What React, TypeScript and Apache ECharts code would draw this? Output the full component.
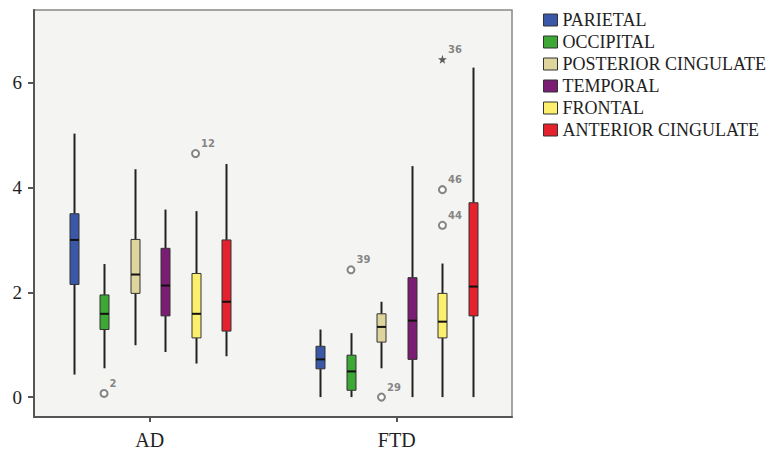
import React, { useEffect, useRef } from "react";
import * as echarts from "echarts";

const groups = ["AD", "FTD"];
const regions = [
  "PARIETAL",
  "OCCIPITAL",
  "POSTERIOR CINGULATE",
  "TEMPORAL",
  "FRONTAL",
  "ANTERIOR CINGULATE",
];
const colors = ["#3a58a7", "#3da836", "#ded49d", "#7b1d74", "#fbef6d", "#e3222e"];

// [min, Q1, median, Q3, max] for AD, FTD
const parietal = [
  [0.43, 2.15, 3.0, 3.5, 5.03],
  [0.0, 0.54, 0.72, 0.97, 1.29],
];
const occipital = [
  [0.55, 1.29, 1.59, 1.95, 2.54],
  [0.0, 0.13, 0.49, 0.8, 1.22],
];
const posteriorCingulate = [
  [0.99, 1.98, 2.34, 3.01, 4.35],
  [0.55, 1.05, 1.34, 1.59, 1.82],
];
const temporal = [
  [0.86, 1.55, 2.13, 2.84, 3.58],
  [0.0, 0.72, 1.46, 2.28, 4.41],
];
const frontal = [
  [0.64, 1.13, 1.59, 2.36, 3.55],
  [0.0, 1.13, 1.44, 1.98, 2.55],
];
const anteriorCingulate = [
  [0.78, 1.26, 1.82, 3.0, 4.45],
  [0.0, 1.55, 2.11, 3.71, 6.29],
];
const boxData = [parietal, occipital, posteriorCingulate, temporal, frontal, anteriorCingulate];

// outliers: group index, region index, value, case label, kind
const outlierGroup = [0, 0, 1, 1, 1, 1, 1];
const outlierRegion = [1, 4, 1, 2, 4, 4, 4];
const outlierValue = [0.07, 4.65, 2.43, 0.0, 3.28, 3.96, 6.45];
const outlierLabel = ["2", "12", "39", "29", "44", "46", "36"];
const outlierKind = ["circle", "circle", "circle", "circle", "circle", "circle", "star"];

const yTicks = [0, 2, 4, 6];

const X_MIN = 0.531;
const X_MAX = 2.467;
const SLOT = 0.1235;
const BOX_W = 9;
const STAR = "path://M50,0 L61,35 L98,35 L68,57 L79,91 L50,70 L21,91 L32,57 L2,35 L39,35 Z";

const slotX = (g: number, r: number) => g + 1 + (r - 2.5) * SLOT;

export default function App() {
  const ref = useRef<HTMLDivElement>(null);
  useEffect(() => {
    if (!ref.current) return;
    const chart = echarts.init(ref.current, null, { renderer: "svg" });

    const boxSeries = regions.map((name, ri) => ({
      name,
      type: "custom",
      itemStyle: { color: colors[ri], borderColor: "#333", borderWidth: 1 },
      encode: { x: 0, y: [1, 2, 3, 4, 5] },
      data: boxData[ri].map((d, gi) => [slotX(gi, ri), ...d]),
      renderItem: (params: any, api: any) => {
        const x = api.value(0);
        const pMin = api.coord([x, api.value(1)]);
        const pQ1 = api.coord([x, api.value(2)]);
        const pMed = api.coord([x, api.value(3)]);
        const pQ3 = api.coord([x, api.value(4)]);
        const pMax = api.coord([x, api.value(5)]);
        const cx = Math.round(pMin[0]) + 0.5;
        const half = BOX_W / 2;
        return {
          type: "group",
          children: [
            {
              type: "line",
              shape: { x1: cx, y1: pMin[1], x2: cx, y2: pQ1[1] },
              style: { stroke: "#222", lineWidth: 2 },
            },
            {
              type: "line",
              shape: { x1: cx, y1: pQ3[1], x2: cx, y2: pMax[1] },
              style: { stroke: "#222", lineWidth: 2 },
            },
            {
              type: "rect",
              shape: { x: cx - half, y: pQ3[1], width: BOX_W, height: pQ1[1] - pQ3[1] },
              style: { fill: colors[ri], stroke: "#333", lineWidth: 1 },
            },
            {
              type: "line",
              shape: { x1: cx - half, y1: pMed[1], x2: cx + half, y2: pMed[1] },
              style: { stroke: "#111", lineWidth: 2 },
            },
          ],
        };
      },
      z: 3,
    }));

    const outlierSeries = {
      type: "scatter",
      name: "outliers",
      z: 4,
      data: outlierValue.map((v, i) => ({
        value: [slotX(outlierGroup[i], outlierRegion[i]), v],
        symbol: outlierKind[i] === "star" ? STAR : "emptyCircle",
        symbolSize: outlierKind[i] === "star" ? 9 : 7,
        itemStyle:
          outlierKind[i] === "star"
            ? { color: "#333", borderWidth: 0 }
            : { color: "#666", borderColor: "#666", borderWidth: 1.5 },
        label: { formatter: outlierLabel[i] },
      })),
      label: {
        show: true,
        position: "right",
        distance: 1,
        offset: [0, -10],
        fontSize: 10,
        fontFamily: "DejaVu Sans",
        fontWeight: "bold",
        color: "#666",
      },
    };

    chart.setOption({
      animation: false,
      backgroundColor: "#ffffff",
      grid: {
        left: 34,
        right: 255,
        top: 10,
        bottom: 37,
        show: true,
        backgroundColor: "#f4f4f2",
        borderColor: "#888",
        borderWidth: 1.5,
      },
      legend: {
        orient: "vertical",
        left: 543,
        top: 11,
        padding: 0,
        itemWidth: 14,
        itemHeight: 12,
        itemGap: 4,
        icon: "rect",
        data: regions.map((r, i) => ({
          name: r,
          itemStyle: { color: colors[i], borderColor: "#333", borderWidth: 1 },
        })),
        textStyle: {
          fontFamily: "Liberation Serif",
          fontSize: 18,
          lineHeight: 17,
          color: "#222",
        },
        selectedMode: false,
      },
      xAxis: {
        type: "value",
        min: X_MIN,
        max: X_MAX,
        splitLine: { show: false },
        axisLine: { show: true, onZero: false, lineStyle: { color: "#555", width: 2 } },
        axisTick: {
          show: true,
          length: 5,
          customValues: [1, 2],
          lineStyle: { color: "#555", width: 2 },
        },
        axisLabel: {
          customValues: [1, 2],
          formatter: (v: number) => groups[Math.round(v) - 1] ?? "",
          fontFamily: "Liberation Serif",
          fontSize: 20,
          color: "#222",
          margin: 13,
        },
      },
      yAxis: {
        type: "value",
        min: -0.38,
        max: 7.39,
        splitLine: { show: false },
        axisLine: { show: true, onZero: false, lineStyle: { color: "#555", width: 2 } },
        axisTick: {
          show: true,
          length: 6,
          customValues: yTicks,
          lineStyle: { color: "#555", width: 2 },
        },
        axisLabel: {
          customValues: yTicks,
          fontFamily: "Liberation Serif",
          fontSize: 19,
          color: "#222",
          margin: 12,
        },
      },
      series: [...boxSeries, outlierSeries],
    });
    return () => chart.dispose();
  }, []);
  return (
    <div
      ref={ref}
      style={{ position: "fixed", left: 0, top: 0, width: 767, height: 454 }}
    />
  );
}
